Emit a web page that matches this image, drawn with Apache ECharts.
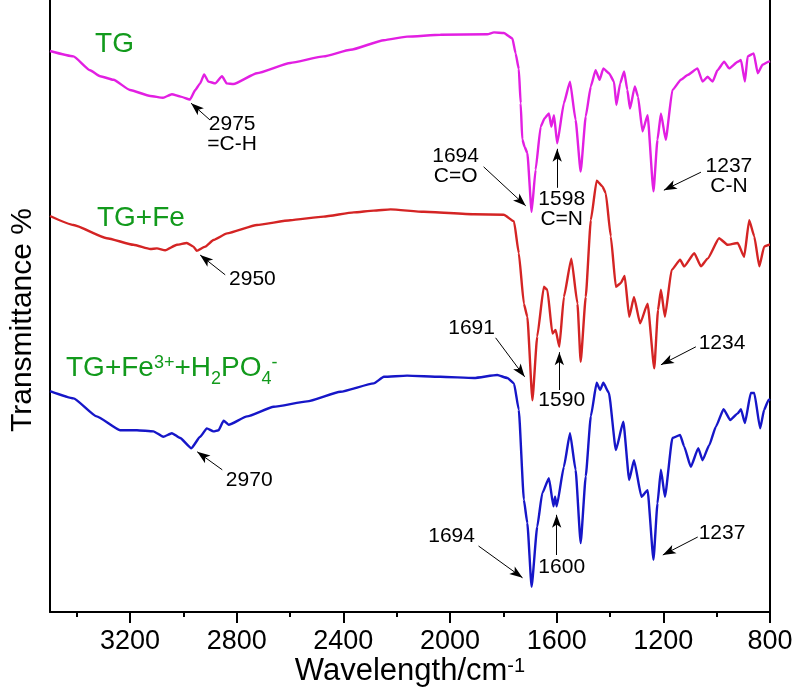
<!DOCTYPE html>
<html>
<head>
<meta charset="utf-8">
<title>FTIR spectra</title>
<script src="https://cdn.jsdelivr.net/npm/echarts@6.0.0/dist/echarts.min.js"></script>
<style>
  html, body { margin: 0; padding: 0; background: #fff; }
  #chart { width: 794px; height: 693px; }
</style>
</head>
<body>
<div id="chart"></div>
<script>
// Wavenumber (cm-1) / offset transmittance pairs for each spectrum
const specTG = [
  [3500,93.5],[3412,92.6],[3350,90.3],[3312,89.3],[3262,88.7],[3200,87.0],[3124,86.0],[3076,85.7],
  [3043,86.3],[3010,85.9],[2975,85.4],[2955,87.0],[2937,88.1],[2922,89.6],[2906,88.4],[2880,88.1],
  [2855,89.3],[2837,88.1],[2812,88.0],[2724,89.8],[2599,91.5],[2474,92.6],[2373,93.7],[2248,95.3],
  [2161,95.9],[2036,96.2],[1860,96.3],[1835,96.6],[1798,96.5],[1766,95.6],[1754,93.1],[1742,90.5],
  [1735,84.8],[1729,78.8],[1720,77.5],[1710,76.5],[1694,66.7],[1679,73.7],[1660,80.9],[1645,82.3],
  [1629,83.1],[1620,80.9],[1610,82.8],[1598,78.1],[1573,84.8],[1550,88.4],[1529,82.0],[1510,73.4],
  [1491,82.6],[1472,87.6],[1454,90.3],[1439,88.7],[1425,90.6],[1404,89.8],[1385,88.4],[1376,84.5],
  [1362,88.1],[1347,90.1],[1335,87.0],[1325,83.9],[1307,87.6],[1295,85.9],[1278,80.1],[1259,82.8],
  [1237,70.1],[1222,78.7],[1209,83.1],[1191,78.7],[1166,87.0],[1134,88.7],[1109,89.5],[1072,90.6],
  [1053,88.4],[1034,89.2],[1015,88.4],[997,90.3],[972,91.7],[953,90.6],[921,91.7],[909,92.0],
  [894,88.4],[884,92.6],[861,93.1],[846,89.8],[828,91.2],[806,91.7],[800,91.8]
];
const specTGFe = [
  [3500,66.0],[3412,64.5],[3287,62.3],[3187,61.2],[3124,60.5],[3099,60.6],[3068,60.3],[3024,61.2],
  [2987,61.5],[2962,60.9],[2950,60.2],[2918,60.9],[2887,62.0],[2836,63.1],[2724,64.5],[2599,65.3],
  [2474,65.9],[2361,66.6],[2286,66.9],[2223,67.1],[2098,66.7],[1910,66.3],[1798,66.2],[1760,65.1],
  [1742,59.8],[1723,51.4],[1710,49.2],[1691,35.3],[1673,45.9],[1648,54.2],[1635,53.7],[1616,46.4],
  [1604,47.0],[1590,44.2],[1573,52.5],[1545,58.9],[1522,51.4],[1510,41.7],[1491,52.5],[1472,65.3],
  [1450,71.9],[1428,70.9],[1416,69.8],[1397,62.6],[1378,54.2],[1360,54.8],[1345,56.0],[1328,49.2],
  [1310,52.5],[1287,48.1],[1259,51.4],[1234,40.6],[1220,50.3],[1209,53.7],[1194,49.2],[1169,57.0],
  [1137,58.7],[1122,57.6],[1084,59.8],[1059,57.6],[1034,58.9],[991,62.3],[959,61.2],[921,61.5],
  [897,59.2],[878,65.3],[859,62.6],[840,57.6],[822,60.9],[803,61.2],[800,61.2]
];
const specTGFePO4 = [
  [3500,36.8],[3412,35.6],[3325,32.6],[3237,30.3],[3174,30.3],[3112,30.1],[3075,29.2],[3043,29.8],
  [3012,29.0],[2970,27.3],[2937,29.2],[2912,30.6],[2887,30.1],[2868,30.3],[2849,31.9],[2830,31.2],
  [2761,32.6],[2661,34.2],[2536,35.1],[2411,36.7],[2286,38.1],[2248,39.2],[2161,39.4],[2036,39.2],
  [1910,39.0],[1823,39.5],[1785,39.0],[1760,38.1],[1742,33.7],[1723,18.7],[1710,14.8],[1694,4.2],
  [1673,14.2],[1654,19.8],[1629,22.3],[1612,17.6],[1606,19.2],[1600,17.6],[1573,24.2],[1550,29.8],
  [1529,23.7],[1510,11.5],[1491,22.6],[1472,32.6],[1450,38.2],[1437,37.0],[1425,38.2],[1404,36.5],
  [1378,27.0],[1350,31.7],[1328,22.0],[1310,25.3],[1282,19.2],[1259,20.3],[1237,8.7],[1222,18.1],
  [1209,23.7],[1194,19.2],[1166,29.0],[1137,29.5],[1122,27.6],[1097,24.2],[1069,27.3],[1053,25.3],
  [1028,27.8],[1003,30.9],[974,33.8],[949,32.0],[921,33.1],[909,33.8],[894,31.5],[872,36.5],
  [859,36.5],[837,30.6],[822,33.7],[806,35.3],[800,35.5]
];

// Wavenumber axis: full range, labelled ticks and the short intermediate ticks
const wnRange = [800, 3500];
const majorTicks = [800, 3200, 400];   // first, last, step
const minorTicks = [1000, 3400, 400];  // first, last, step

// Curve names, placed at the left of each spectrum
const curveNames = [
  { text: '{m|TG}', at: [3331, 94.7] },
  { text: '{m|TG+Fe}', at: [3324, 65.7] },
  { text: '{m|TG+Fe}{sup|3+}{m|+H}{sub|2}{m|PO}{sub|4}{sup|-}', at: [3440, 40.7] }
];

// Band assignments: text position and arrow (tail -> tip)
const bandTexts = [
  { text: '2975\n=C-H', at: [2817, 79.7] },
  { text: '1694\nC=O', at: [1979, 74.3] },
  { text: '1598\nC=N', at: [1581, 67.2] },
  { text: '1237\nC-N', at: [954, 72.7] },
  { text: '2950', at: [2741, 55.5] },
  { text: '1691', at: [1919, 47.3] },
  { text: '1590', at: [1581, 35.3] },
  { text: '1234', at: [980, 44.8] },
  { text: '2970', at: [2753, 22.0] },
  { text: '1694', at: [1994, 12.7] },
  { text: '1600', at: [1581, 7.5] },
  { text: '1237', at: [980, 13.2] }
];
const bandArrows = [
  [[2900, 82.0], [2971, 84.8]],
  [[1874, 74.2], [1716, 67.7]],
  [[1598, 70.7], [1598, 77.2]],
  [[1059, 73.3], [1198, 70.3]],
  [[2843, 56.2], [2937, 59.5]],
  [[1829, 45.7], [1720, 39.2]],
  [[1590, 37.0], [1590, 43.3]],
  [[1078, 44.2], [1209, 41.2]],
  [[2854, 23.7], [2948, 26.7]],
  [[1893, 11.0], [1728, 5.7]],
  [[1600, 9.5], [1600, 16.2]],
  [[1071, 12.5], [1202, 9.5]]
];

const FONT = '"Liberation Sans", Arial, Helvetica, sans-serif';
const GREEN = '#129a1c';
const W = 794, H = 693;
const PLOT = { left: 50, right: 24, top: 0, bottom: 81 };

// Tick rows sit on their own grids whose ends fall exactly on the first and
// last tick, so every tick is a regular one of that grid's axis.
const pxPerWn = (W - PLOT.left - PLOT.right) / (wnRange[1] - wnRange[0]);
function tickGrid(t) {
  return {
    left: PLOT.left + (wnRange[1] - t[1]) * pxPerWn,
    right: PLOT.right + (t[0] - wnRange[0]) * pxPerWn,
    top: PLOT.top, bottom: PLOT.bottom, outerBoundsMode: 'none'
  };
}

const chart = echarts.init(document.getElementById('chart'), null, { renderer: 'canvas' });
const tickLine = { color: '#000', width: 2 };
const hiddenY = i => ({ gridIndex: i, type: 'value', min: 0, max: 1, show: false });

chart.setOption({
  animation: false,
  backgroundColor: '#fff',
  grid: [
    Object.assign({ containLabel: false, outerBoundsMode: 'none' }, PLOT),
    tickGrid(majorTicks),
    tickGrid(minorTicks)
  ],
  xAxis: [
    {
      gridIndex: 0, type: 'value', inverse: true, min: wnRange[0], max: wnRange[1], position: 'bottom',
      splitLine: { show: false },
      axisLine: { show: true, onZero: false, lineStyle: { color: '#000', width: 2 } },
      axisTick: { show: false },
      axisLabel: { show: false },
      name: '{m|Wavelength/cm}{sup|-1}',
      nameLocation: 'middle',
      nameGap: 44,
      nameMoveOverlap: false,
      nameTextStyle: {
        color: '#000', fontFamily: FONT,
        rich: {
          m: { fontSize: 31, fontFamily: FONT, color: '#000', lineHeight: 31, verticalAlign: 'bottom' },
          sup: { fontSize: 20, fontFamily: FONT, color: '#000', lineHeight: 20, verticalAlign: 'top' }
        }
      }
    },
    {
      gridIndex: 1, type: 'value', inverse: true, min: majorTicks[0], max: majorTicks[1],
      interval: majorTicks[2], position: 'bottom', splitLine: { show: false },
      axisLine: { show: false, onZero: false },
      axisTick: { show: true, inside: false, length: 11, lineStyle: tickLine },
      axisLabel: { show: true, margin: 16, color: '#000', fontSize: 27, fontFamily: FONT,
        formatter: v => String(v) }
    },
    {
      gridIndex: 2, type: 'value', inverse: true, min: minorTicks[0], max: minorTicks[1],
      interval: minorTicks[2], position: 'bottom', splitLine: { show: false },
      axisLine: { show: false, onZero: false },
      axisTick: { show: true, inside: false, length: 5, lineStyle: tickLine },
      axisLabel: { show: false }
    }
  ],
  yAxis: [
    {
      gridIndex: 0, type: 'value', min: 0, max: 102, position: 'left',
      axisLine: { show: true, onZero: false, lineStyle: { color: '#000', width: 2 } },
      axisTick: { show: false }, axisLabel: { show: false }, splitLine: { show: false },
      name: 'Transmittance %', nameLocation: 'middle', nameGap: 12, nameRotate: 90,
      nameMoveOverlap: false,
      nameTextStyle: { color: '#000', fontSize: 30, fontFamily: FONT, padding: [0, 28, 0, 0] }
    },
    {
      gridIndex: 0, type: 'value', min: 0, max: 102, position: 'right',
      axisLine: { show: true, onZero: false, lineStyle: { color: '#000', width: 2 } },
      axisTick: { show: false }, axisLabel: { show: false }, splitLine: { show: false }
    },
    hiddenY(1),
    hiddenY(2)
  ],
  series: [
    { name: 'TG', type: 'line', data: specTG, showSymbol: false, smooth: 0.15, smoothMonotone: 'x',
      lineStyle: { color: '#e21fe2', width: 2.4 }, z: 3 },
    { name: 'TG+Fe', type: 'line', data: specTGFe, showSymbol: false, smooth: 0.15, smoothMonotone: 'x',
      lineStyle: { color: '#d42424', width: 2.4 }, z: 3 },
    { name: 'TG+Fe3++H2PO4-', type: 'line', data: specTGFePO4, showSymbol: false, smooth: 0.15, smoothMonotone: 'x',
      lineStyle: { color: '#1616c8', width: 2.4 }, z: 3 },
    {
      name: 'curve names', type: 'scatter', symbolSize: 0, silent: true, z: 5,
      itemStyle: { opacity: 1 },
      data: curveNames.map(c => ({ value: c.at, label: { formatter: c.text } })),
      label: {
        show: true, position: 'right', distance: 0, textBorderWidth: 0,
        rich: {
          m: { fontSize: 28, fontFamily: FONT, color: GREEN, lineHeight: 40, verticalAlign: 'middle' },
          sup: { fontSize: 18, fontFamily: FONT, color: GREEN, lineHeight: 40, verticalAlign: 'top', padding: [6, 0, 0, 0] },
          sub: { fontSize: 18, fontFamily: FONT, color: GREEN, lineHeight: 40, verticalAlign: 'bottom' }
        }
      }
    },
    {
      name: 'bands', type: 'scatter', symbolSize: 0, silent: true, z: 5,
      itemStyle: { opacity: 1 },
      data: bandTexts.map(b => ({ value: b.at, label: { formatter: b.text } })),
      label: {
        show: true, position: 'inside', color: '#000', fontSize: 21, fontFamily: FONT,
        textBorderWidth: 0, textBorderColor: 'transparent',
        lineHeight: 20, align: 'center', verticalAlign: 'middle'
      },
      markLine: {
        silent: true, animation: false,
        symbol: ['none', 'arrow'], symbolSize: [7, 13],
        label: { show: false },
        lineStyle: { color: '#000', width: 1, type: 'solid', opacity: 1 },
        emphasis: { disabled: true },
        data: bandArrows.map(a => [{ coord: a[0] }, { coord: a[1] }])
      }
    }
  ]
});
</script>
</body>
</html>
